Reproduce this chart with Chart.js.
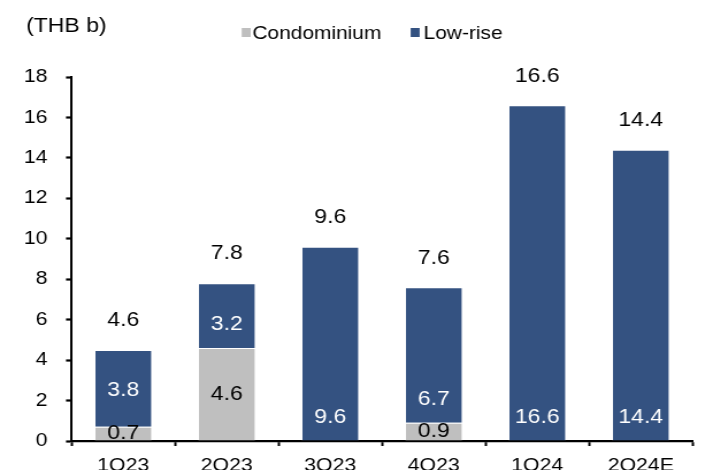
<!DOCTYPE html>
<html><head><meta charset="utf-8">
<script src="https://cdn.jsdelivr.net/npm/chart.js@4/dist/chart.umd.min.js"></script>
<style>
html,body{margin:0;padding:0;overflow:hidden;background:#fff;width:728px;height:470px}
#wrap{position:absolute;left:0;top:0;width:633px;height:470px;transform:scaleX(1.15);transform-origin:0 0}
</style></head><body>
<div id="wrap"><canvas id="c"></canvas></div>
<script>
const categories = ['1Q23', '2Q23', '3Q23', '4Q23', '1Q24', '2Q24E'];
const condominium = [0.7, 4.6, 0, 0.9, 0, 0];
const lowRise = [3.8, 3.2, 9.6, 6.7, 16.6, 14.4];
const totals = [4.6, 7.8, 9.6, 7.6, 16.6, 14.4];
const yTicks = [0, 2, 4, 6, 8, 10, 12, 14, 16, 18];
const seriesNames = ['Condominium', 'Low-rise'];
const unitLabel = '(THB b)';

const FONT = '"Liberation Sans", Arial, sans-serif';
const COLORS = ['#BFBFBF', '#345281'];

const labelPlugin = {
  id: 'labels',
  afterDatasetsDraw(chart) {
    const ctx = chart.ctx;
    ctx.save();
    ctx.font = '20px ' + FONT;
    ctx.textAlign = 'center';
    ctx.textBaseline = 'middle';
    const m0 = chart.getDatasetMeta(0), m1 = chart.getDatasetMeta(1);
    categories.forEach((c, i) => {
      const a = m0.data[i], b = m1.data[i];
      if (condominium[i] > 0) {
        ctx.fillStyle = '#000';
        ctx.fillText(condominium[i].toFixed(1), a.x, (a.y + a.base) / 2);
      }
      if (lowRise[i] > 0) {
        ctx.fillStyle = '#fff';
        const h = b.base - b.y;
        const y = h < 80 && condominium[i] > 0 && condominium[i] < 1 ? (b.y + b.base) / 2 + 2 : b.base - 23.3;
        ctx.fillText(lowRise[i].toFixed(1), b.x, y);
      }
      ctx.fillStyle = '#000';
      ctx.fillText(totals[i].toFixed(1), b.x, b.y - 29.3);
    });
    ctx.restore();
  },
  afterDraw(chart) {
    const ctx = chart.ctx;
    ctx.save();
    ctx.textBaseline = 'alphabetic';
    ctx.textAlign = 'left';
    ctx.fillStyle = '#000';
    ctx.font = '20px ' + FONT;
    ctx.fillText(unitLabel, 22.7, 31.5);
    ctx.font = '18.2px ' + FONT;
    const boxX = [210.2, 357.1];
    const textX = [219.4, 368.3];
    chart.data.datasets.forEach((ds, k) => {
      ctx.fillStyle = ds.backgroundColor;
      ctx.fillRect(boxX[k], 28, 7.8, 9);
      ctx.fillStyle = '#000';
      ctx.fillText(ds.label, textX[k], 39);
    });
    ctx.restore();
  }
};

new Chart(document.getElementById('c'), {
  type: 'bar',
  data: {
    labels: categories,
    datasets: [
      { label: seriesNames[0], data: condominium, backgroundColor: COLORS[0], borderColor: 'rgba(255,255,255,0.35)', borderWidth: 1, categoryPercentage: 0.56, barPercentage: 1 },
      { label: seriesNames[1], data: lowRise, backgroundColor: COLORS[1], borderColor: 'rgba(255,255,255,0.35)', borderWidth: 1, categoryPercentage: 0.56, barPercentage: 1 }
    ]
  },
  options: {
    responsive: true,
    maintainAspectRatio: false,
    animation: false,
    devicePixelRatio: 1,
    layout: { padding: { top: 77, left: 0, right: 30.8, bottom: 0 } },
    plugins: { legend: { display: false }, title: { display: false }, tooltip: { enabled: false } },
    scales: {
      x: {
        stacked: true,
        offset: true,
        ticks: { color: '#000', font: { family: FONT, size: 18.5 }, padding: 9, autoSkip: false, maxRotation: 0 },
        grid: { offset: true, drawOnChartArea: false, drawTicks: true, tickLength: 5, tickWidth: 2, tickColor: '#000' },
        border: { display: true, color: '#000', width: 2.2 },
        afterFit: s => { s.height = 29; }
      },
      y: {
        stacked: true,
        min: 0, max: 18,
        afterBuildTicks: s => { s.ticks = yTicks.map(v => ({ value: v })); },
        ticks: { color: '#000', font: { family: FONT, size: 18.5 }, padding: 16.1 },
        grid: { drawOnChartArea: false, drawTicks: true, tickLength: 4.8, tickWidth: 2.2, tickColor: '#000' },
        border: { display: true, color: '#000', width: 2 },
        afterFit: s => { s.width = 62.2; }
      }
    }
  },
  plugins: [labelPlugin]
});
</script>
</body></html>
